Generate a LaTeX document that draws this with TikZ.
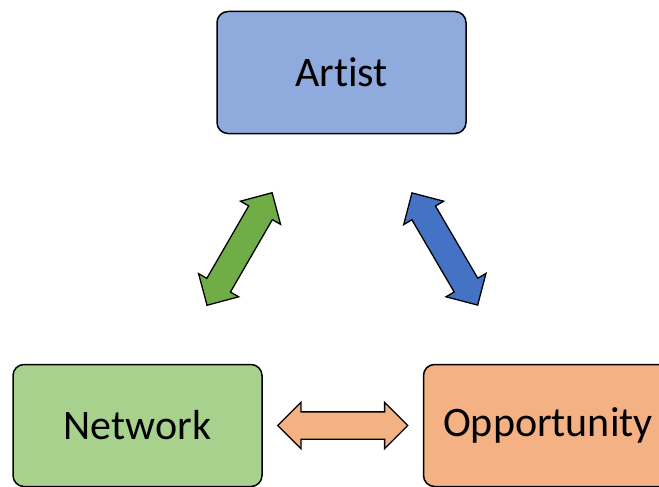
\documentclass[tikz,border=0pt]{standalone}
\usepackage{fontspec}
\setmainfont{Carlito}[Ligatures=CommonOff]
\usepackage{tikz}
\usetikzlibrary{positioning}
\usetikzlibrary{shapes.arrows}
\definecolor{artistblue}{HTML}{8FAADC}
\definecolor{networkgreen}{HTML}{A9D18E}
\definecolor{oppbg}{HTML}{F4B183}
\definecolor{darkgreen}{HTML}{70AD47}
\definecolor{darkblue}{HTML}{4472C4}
\newcommand{\bigtext}[1]{{\fontsize{42}{50}\selectfont #1}}

\begin{document}
\begin{tikzpicture}[x=1pt,y=1pt,node distance=160pt,
    box/.style={draw=black,line width=1.5pt,rounded corners=11pt,minimum width=249pt,minimum height=122pt,inner sep=0pt},
    dblarrow/.style={double arrow,draw=black,line width=1.3pt,minimum height=130pt,double arrow head extend=9.5pt,inner xsep=0pt,inner ysep=13pt,sloped}]
		\useasboundingbox (0,0) rectangle (659,-487);
		\node (art) [box,fill=artistblue] at (341.5,-72.5) {\bigtext{Artist}};
		\node (net) [box,fill=networkgreen] at (137.5,-425.5) {\bigtext{Network}};
		\node (opp) [box,fill=oppbg,right=of net] {\bigtext{Opportunity}};
		\path (net) -- (art) node[dblarrow,fill=darkgreen,midway] {};
		\path (art) -- (opp) node[dblarrow,fill=darkblue,midway] {};
		\path (net) -- (opp) node[dblarrow,fill=oppbg,midway] {};
	\end{tikzpicture}
\end{document}
